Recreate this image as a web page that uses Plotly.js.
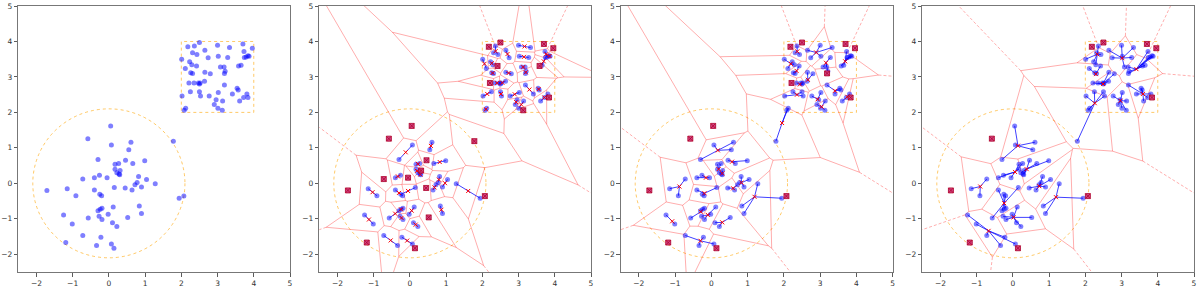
<!DOCTYPE html>
<html><head>
<script src="https://cdn.plot.ly/plotly-3.0.1.min.js"></script>
<style>body{margin:0;background:#fff}#p{width:1200px;height:287px}</style>
</head><body><div id="p"></div>
<script>
// ---- data points (circle blob + square blob) ----
const ptX=[0.05,-0.58,0.07,0.61,0.55,1.78,-0.30,0.46,0.66,0.99,0.17,0.27,0.17,0.31,0.22,0.28,0.30,-0.26,-0.72,-0.40,-0.05,0.82,1.04,1.28,0.72,0.78,0.15,0.45,0.64,0.90,-1.71,-1.15,-0.91,-0.40,-0.25,-0.20,1.94,2.07,0.84,0.90,0.12,-0.19,-0.24,-0.30,-0.27,-0.19,-0.57,-0.02,0.52,-1.25,-1.01,0.10,0.22,-0.72,-0.22,-1.19,-0.34,0.07,0.14,
2.50,2.18,2.36,3.00,3.33,3.70,3.96,2.31,2.43,2.65,2.01,2.74,3.02,3.28,3.73,3.74,3.79,3.84,3.87,2.23,2.29,2.11,2.42,2.26,2.31,2.65,2.80,3.08,3.18,3.21,3.19,3.58,3.65,2.21,2.35,2.47,2.50,2.52,2.64,3.19,2.25,2.50,2.53,2.77,3.02,3.41,2.02,3.54,3.57,3.81,3.72,3.84,3.61,2.96,2.91,3.14,3.01,3.13,2.12,2.08];
const ptY=[1.62,1.26,1.08,1.16,0.95,1.19,0.67,0.65,0.56,0.64,0.54,0.56,0.40,0.36,0.30,0.26,0.24,0.23,0.12,0.16,0.16,0.19,0.11,-0.01,-0.04,0.02,-0.12,-0.13,-0.19,-0.10,-0.20,-0.15,-0.35,-0.19,-0.31,-0.35,-0.42,-0.36,-0.64,-0.85,-0.67,-0.70,-0.73,-0.77,-0.93,-1.02,-0.98,-0.87,-0.96,-0.89,-1.15,-1.11,-1.22,-1.47,-1.52,-1.67,-1.75,-1.71,-1.83,
3.97,3.85,3.87,3.89,3.83,3.93,3.81,3.68,3.63,3.75,3.50,3.54,3.58,3.55,3.72,3.55,3.56,3.60,3.58,3.43,3.34,3.24,3.31,3.12,3.10,3.13,3.09,3.28,3.28,3.16,3.10,3.31,3.33,2.83,2.83,2.83,2.80,2.83,2.88,2.77,2.58,2.58,2.46,2.46,2.56,2.52,2.46,2.68,2.63,2.52,2.42,2.42,2.32,2.36,2.22,2.32,2.12,2.06,2.12,2.06];

// ---- reference shapes ----
const circleR=2.1;
const squareLo=2, squareHi=4;
const tickVals=[-2,-1,0,1,2,3,4,5];

// ---- clusters per panel (point indices); centres null = mean of members ----
const grp2=[[0],[1],[2,6],[3,4],[5],[7],[8,9],[10,11],[12,14],[13],[15,16],[17,19],[18],[20],[21,25],[24,28],[22,29],[23,36],[26,34],[33,35],[27],[30],[31,32],[37],[38,39],[40,47],[42,46],[41,43],[44,45],[48],[49,50],[51,52],[53,56],[54,57],[55],[58],
[59],[60],[64],[65],[62,63],[61,66,67],[68,70],[71,72],[73,75],[76,77],[74,91],[90],[69,80],[78,79],[81],[82,83],[84,85],[86,87],[88,89],[92],[93,94],[95,96,97],[99,105],[100,101],[102,103],[98,104],[106,107],[108,109,111],[110],[112,113],[114,115],[116],[117,118]];

const grp3=[[0],[1],[30],[37],[55],[58],[2,3,4,6],[7,8,9],[10,11,12],[13,14,15,16],[17,19,20],[18,31,32],[26,33,34,35],[24,27,28],[21,22,25,29],[23,36,38,39],[41,42,43,46],[40,44,45,47],[48,51,52],[49,50],[53,54,56,57],[5,117,118],
[59],[60],[64],[65],[89],[92],[110],[61,66,67],[62,63,68,70,71],[72,86,87,88],[73,74,75,76,77,90,91],[69,78,79,80],[81,82,83],[84,85,97],[93,94,95,96],[99,100,101,105],[102,103,112],[113,114,115,116],[98,104,106,107],[108,109,111]];
const cen3X=[null,null,null,null,null,null,0.18,0.57,0.20,0.30,-0.15,-0.88,-0.19,0.60,0.83,1.19,-0.29,-0.10,0.30,-1.08,-0.30,1.95,
null,null,null,null,null,null,null,2.37,2.89,3.16,3.69,2.19,2.35,2.66,2.44,2.36,2.93,3.04,3.41,3.75];
const cen3Y=[null,null,null,null,null,null,0.93,0.61,0.40,0.28,0.16,-0.09,-0.28,-0.14,0.02,-0.38,-0.80,-0.89,-1.10,-1.07,-1.62,1.70,
null,null,null,null,null,null,null,3.72,3.69,3.40,3.44,3.37,3.17,2.92,2.79,2.50,2.37,2.16,2.61,2.44];

const grp4=[[1],[30],[37],[55],[58],[0,2,3,4,6],[10,11,12,17,19,20],[7,8,9,13,14,15,16],[18,31,32],[21,22,24,25,27,28,29],[23,36,38,39],[26,33,34,35,41,42,43,46],[40,44,45,47,48,51,52],[49,50,53,54,56,57],
[59],[60],[64],[65],[110],[61,66,67,69,78,79],[62,63,68,70,71,72,86],[73,74,75,76,77,87,88,89,90,91],[80,81,82,83],[84,85,92,93,94,95,96,97],[5,99,100,101,105,117,118],[102,103,112,113,114,115,116],[98,104,106,107,108,109,111]];
const cen4X=[null,null,null,null,null,0.14,0.06,0.38,-0.90,0.73,1.19,-0.24,0.02,-0.67,
null,null,null,null,null,2.33,3.02,3.41,2.29,2.49,2.26,2.97,3.59];
const cen4Y=[null,null,null,null,null,1.06,0.32,0.40,-0.09,-0.08,-0.39,-0.56,-0.96,-1.34,
null,null,null,null,null,3.64,3.53,3.22,3.08,2.80,2.26,2.33,2.52];

// ---- helpers ----
function centres(grp,cX,cY){
  const X=[],Y=[];
  grp.forEach((g,i)=>{
    if(cX && cX[i]!==null){X.push(cX[i]);Y.push(cY[i]);}
    else{X.push(g.reduce((s,k)=>s+ptX[k],0)/g.length);Y.push(g.reduce((s,k)=>s+ptY[k],0)/g.length);}
  });
  return [X,Y];
}
function voronoi(cx,cy){
  const n=cx.length, fin={x:[],y:[]}, inf={x:[],y:[]};
  const ptp=Math.max(Math.max(...cx)-Math.min(...cx),Math.max(...cy)-Math.min(...cy));
  for(let i=0;i<n;i++)for(let j=i+1;j<n;j++){
    const dx=cx[j]-cx[i],dy=cy[j]-cy[i],L=Math.hypot(dx,dy); if(L<1e-9)continue;
    const ux=-dy/L,uy=dx/L,mx=(cx[i]+cx[j])/2,my=(cy[i]+cy[j])/2;
    let t0=-Infinity,t1=Infinity,ok=true;
    for(let k=0;k<n&&ok;k++){
      if(k===i||k===j)continue;
      const ex=cx[k]-cx[i],ey=cy[k]-cy[i];
      const a=2*(ux*ex+uy*ey);
      const b=(cx[k]*cx[k]+cy[k]*cy[k])-(cx[i]*cx[i]+cy[i]*cy[i])-2*(mx*ex+my*ey);
      if(Math.abs(a)<1e-12){if(b<0)ok=false;continue;}
      if(a>0)t1=Math.min(t1,b/a);else t0=Math.max(t0,b/a);
      if(t0>=t1-1e-9)ok=false;
    }
    if(!ok)continue;
    if(isFinite(t0)&&isFinite(t1)){
      fin.x.push(mx+t0*ux,mx+t1*ux,null);fin.y.push(my+t0*uy,my+t1*uy,null);
    }else if(isFinite(t0)){
      inf.x.push(mx+t0*ux,mx+t0*ux+ptp*ux,null);inf.y.push(my+t0*uy,my+t0*uy+ptp*uy,null);
    }else if(isFinite(t1)){
      inf.x.push(mx+t1*ux,mx+t1*ux-ptp*ux,null);inf.y.push(my+t1*uy,my+t1*uy-ptp*uy,null);
    }
  }
  return [fin,inf];
}

const traces=[];
function pointsTrace(ax){
  return {x:ptX,y:ptY,xaxis:'x'+ax,yaxis:'y'+ax,mode:'markers',type:'scatter',hoverinfo:'skip',
    marker:{size:5,color:'rgba(0,0,255,0.5)',line:{width:0}}};
}
traces.push(pointsTrace(''));

function panel(ax,grp,cX,cY){
  const [CX,CY]=centres(grp,cX,cY);
  const [fin,inf]=voronoi(CX,CY);
  const xa='x'+ax, ya='y'+ax;
  traces.push({x:fin.x,y:fin.y,xaxis:xa,yaxis:ya,mode:'lines',type:'scatter',hoverinfo:'skip',
    line:{color:'rgba(255,0,0,0.32)',width:1}});
  traces.push({x:inf.x,y:inf.y,xaxis:xa,yaxis:ya,mode:'lines',type:'scatter',hoverinfo:'skip',
    line:{color:'rgba(255,0,0,0.32)',width:1,dash:'3px,2px'}});
  const lx=[],ly=[],sx=[],sy=[],kx=[],ky=[];
  grp.forEach((g,i)=>{
    const single=g.length===1 && Math.hypot(ptX[g[0]]-CX[i],ptY[g[0]]-CY[i])<0.02;
    if(single){sx.push(CX[i]);sy.push(CY[i]);}
    else{kx.push(CX[i]);ky.push(CY[i]);
      g.forEach(k=>{lx.push(CX[i],ptX[k],null);ly.push(CY[i],ptY[k],null);});}
  });
  traces.push(pointsTrace(ax));
  traces.push({x:lx,y:ly,xaxis:xa,yaxis:ya,mode:'lines',type:'scatter',hoverinfo:'skip',
    line:{color:'rgba(0,0,255,0.75)',width:1}});
  traces.push({x:kx,y:ky,xaxis:xa,yaxis:ya,mode:'markers',type:'scatter',hoverinfo:'skip',
    marker:{symbol:'x-thin',size:4,line:{color:'red',width:1}}});
  traces.push({x:sx,y:sy,xaxis:xa,yaxis:ya,mode:'markers',type:'scatter',hoverinfo:'skip',
    marker:{symbol:'square-x',size:5,color:'rgba(225,60,110,0.85)',line:{color:'#b0002a',width:0.8}}});
}
panel('2',grp2,null,null);
panel('3',grp3,cen3X,cen3Y);
panel('4',grp4,cen4X,cen4Y);

const yDom=[15/287,281/287];
const xDoms=[[18.3/1200,290/1200],[319.3/1200,591/1200],[620.7/1200,892.7/1200],[922.3/1200,1194/1200]];
function axis(dom,anchor){
  return {domain:dom,anchor:anchor,range:[-2.5,5],tickvals:tickVals,ticks:'outside',ticklen:3.5,tickwidth:0.8,tickcolor:'#333',
    showgrid:false,zeroline:false,showline:true,mirror:true,linecolor:'#777',linewidth:1,
    tickfont:{family:'DejaVu Sans',size:7.5,color:'#333'}};
}
const layout={width:1200,height:287,margin:{l:0,r:0,t:0,b:0},showlegend:false,
  paper_bgcolor:'#fff',plot_bgcolor:'#fff',shapes:[]};
const suf=['','2','3','4'];
suf.forEach((s,i)=>{
  layout['xaxis'+s]=axis(xDoms[i],'y'+s);
  layout['yaxis'+s]=axis(yDom,'x'+s);
  layout.shapes.push({type:'circle',xref:'x'+s,yref:'y'+s,x0:-circleR,x1:circleR,y0:-circleR,y1:circleR,
    line:{color:'rgba(255,165,0,0.6)',width:1,dash:'dot'},layer:'below'});
  layout.shapes.push({type:'rect',xref:'x'+s,yref:'y'+s,x0:squareLo,x1:squareHi,y0:squareLo,y1:squareHi,
    line:{color:'rgba(255,165,0,0.6)',width:1,dash:'dot'},layer:'below'});
});
Plotly.newPlot('p',traces,layout,{displayModeBar:false,staticPlot:true});
</script></body></html>
